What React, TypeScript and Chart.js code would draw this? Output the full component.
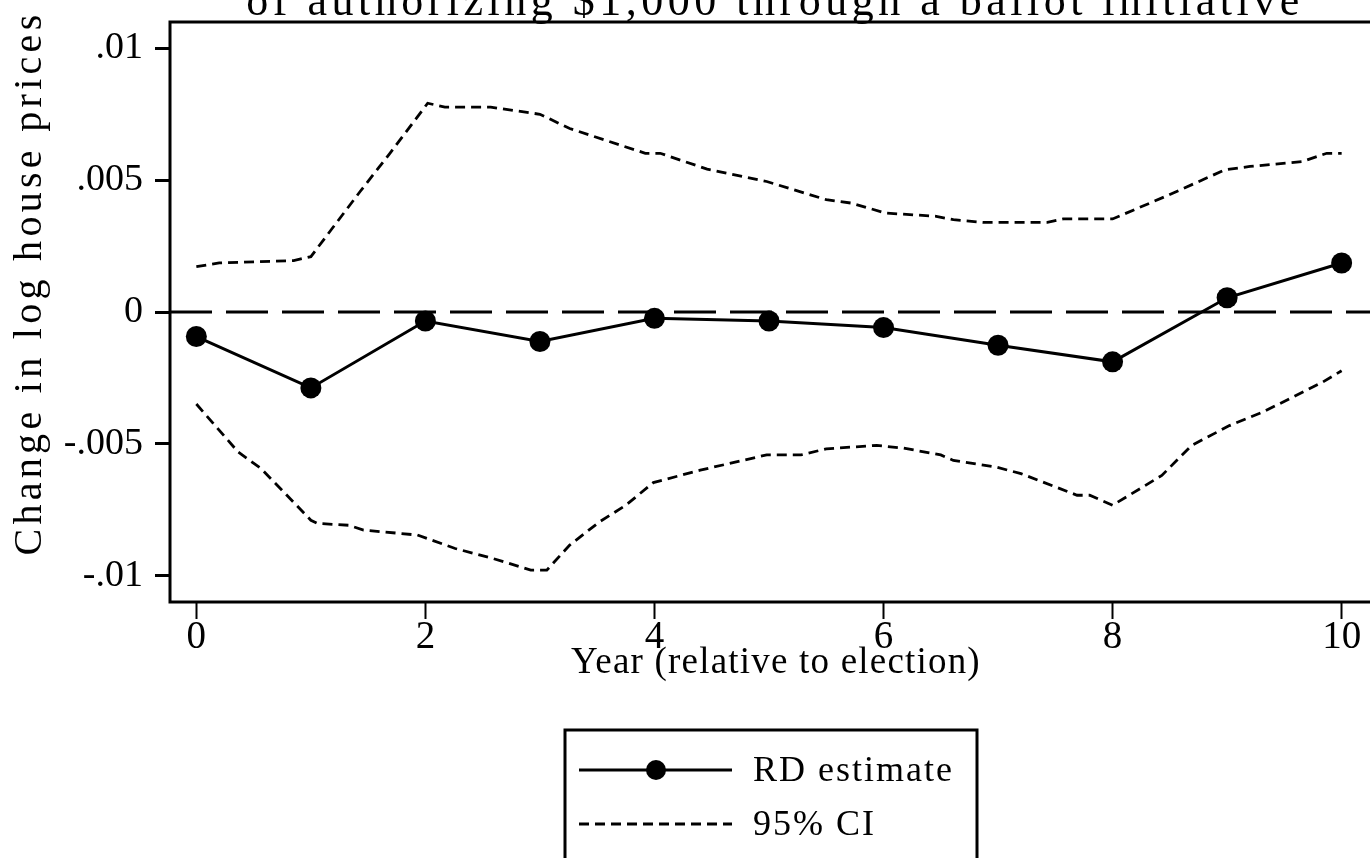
import React, { useEffect, useRef } from 'react';
import { Chart, registerables } from 'chart.js';

Chart.register(...registerables);

// ---- data ----
const years = [0, 1, 2, 3, 4, 5, 6, 7, 8, 9, 10];
const rdEstimate = [-0.00093, -0.00288, -0.00034, -0.00112, -0.00024, -0.00034, -0.00059, -0.00126, -0.00189, 0.00054, 0.00186];

const upperX = [0, 0.2, 0.85, 1.0, 1.43, 1.69, 2.02, 2.17, 2.57, 3.0, 3.26, 3.92, 4.05, 4.46, 4.98, 5.5, 5.72, 6.02, 6.46, 6.61, 6.87, 7.43, 7.57, 8.0, 8.46, 8.98, 9.2, 9.65, 9.87, 10.0];
const upperY = [0.00172, 0.00186, 0.00195, 0.0021, 0.00457, 0.00602, 0.00792, 0.00777, 0.00777, 0.0075, 0.00696, 0.00602, 0.00602, 0.00542, 0.00495, 0.00426, 0.00413, 0.00375, 0.00363, 0.0035, 0.0034, 0.0034, 0.00353, 0.00353, 0.00438, 0.00539, 0.00552, 0.0057, 0.00602, 0.00602];

const lowerX = [0, 0.365, 0.565, 0.764, 1.0, 1.06, 1.33, 1.46, 1.93, 2.26, 2.59, 2.92, 3.06, 3.26, 3.52, 3.75, 3.99, 4.4, 4.98, 5.28, 5.5, 5.94, 6.17, 6.5, 6.61, 6.98, 7.2, 7.69, 7.8, 8.0, 8.43, 8.69, 9.02, 9.31, 9.83, 10.0];
const lowerY = [-0.00349, -0.00531, -0.00594, -0.00683, -0.0079, -0.00802, -0.00809, -0.00827, -0.00846, -0.00897, -0.00935, -0.00979, -0.00979, -0.00884, -0.00796, -0.00733, -0.00647, -0.006, -0.00542, -0.00542, -0.00519, -0.00506, -0.00516, -0.00542, -0.00563, -0.00588, -0.00613, -0.00695, -0.00695, -0.00733, -0.0062, -0.00506, -0.00431, -0.0038, -0.00267, -0.00223];

const referenceLine = [0, 0];
const xTicks = [0, 2, 4, 6, 8, 10];
const yTicks = [-0.01, -0.005, 0, 0.005, 0.01];
const yTickLabels = ['-.01', '-.005', '0', '.005', '.01'];

const titleText = 'of authorizing $1,000 through a ballot initiative';
const yTitle = 'Change in log house prices';
const xTitle = 'Year (relative to election)';
const legendLabels = ['RD estimate', '95% CI'];

const X_MIN = -0.23;
const X_MAX = 10.3;
const FONT = '"Liberation Serif", "Times New Roman", serif';

export default function App() {
  const ref = useRef<HTMLCanvasElement | null>(null);

  useEffect(() => {
    const canvas = ref.current;
    if (!canvas) return;

    const decorPlugin = {
      id: 'decor',
      afterDatasetsDraw(chart: any) {
        const { ctx, chartArea } = chart;
        ctx.save();
        ctx.strokeStyle = '#000';
        ctx.lineWidth = 3;
        ctx.setLineDash([]);
        ctx.strokeRect(chartArea.left, chartArea.top, chartArea.right - chartArea.left, chartArea.bottom - chartArea.top);
        ctx.restore();
      },
      afterDraw(chart: any) {
        const { ctx, chartArea } = chart;
        ctx.save();
        ctx.fillStyle = '#000';
        ctx.strokeStyle = '#000';

        // title (cropped at the top in the reference)
        ctx.font = `44px ${FONT}`;
        (ctx as any).letterSpacing = '4.5px';
        ctx.textAlign = 'center';
        ctx.textBaseline = 'alphabetic';
        ctx.fillText(titleText, (chartArea.left + chartArea.right) / 2 + 2, 15);

        // y axis title
        ctx.save();
        ctx.translate(41, 283);
        ctx.rotate(-Math.PI / 2);
        ctx.font = `40px ${FONT}`;
        (ctx as any).letterSpacing = '4.3px';
        ctx.textAlign = 'center';
        ctx.textBaseline = 'alphabetic';
        ctx.fillText(yTitle, 0, 0);
        ctx.restore();

        // x axis title
        ctx.font = `37px ${FONT}`;
        (ctx as any).letterSpacing = '1.2px';
        ctx.textAlign = 'center';
        ctx.textBaseline = 'alphabetic';
        ctx.fillText(xTitle, 776, 673);

        // legend
        ctx.lineWidth = 3;
        ctx.setLineDash([]);
        ctx.strokeRect(565, 730, 412, 200);

        ctx.beginPath();
        ctx.moveTo(579, 770);
        ctx.lineTo(732, 770);
        ctx.lineWidth = 3;
        ctx.stroke();
        ctx.beginPath();
        ctx.arc(656, 770, 10, 0, Math.PI * 2);
        ctx.fill();

        ctx.beginPath();
        ctx.setLineDash([10, 6]);
        ctx.lineWidth = 2.8;
        ctx.moveTo(579, 824);
        ctx.lineTo(732, 824);
        ctx.stroke();
        ctx.setLineDash([]);

        ctx.font = `36px ${FONT}`;
        (ctx as any).letterSpacing = '2px';
        ctx.textAlign = 'left';
        ctx.textBaseline = 'middle';
        ctx.fillText(legendLabels[0], 753, 772);
        ctx.fillText(legendLabels[1], 753, 826);
        ctx.restore();
      },
    };

    const chart = new Chart(canvas, {
      type: 'line',
      data: {
        datasets: [
          {
            label: 'zero',
            data: [{ x: X_MIN, y: referenceLine[0] }, { x: X_MAX, y: referenceLine[1] }],
            borderColor: '#000',
            borderWidth: 3,
            borderDash: [42, 14],
            pointRadius: 0,
          },
          {
            label: '95% CI upper',
            data: upperX.map((x, i) => ({ x, y: upperY[i] })),
            borderColor: '#000',
            borderWidth: 2.8,
            borderDash: [10, 6],
            pointRadius: 0,
          },
          {
            label: '95% CI lower',
            data: lowerX.map((x, i) => ({ x, y: lowerY[i] })),
            borderColor: '#000',
            borderWidth: 2.8,
            borderDash: [10, 6],
            pointRadius: 0,
          },
          {
            label: legendLabels[0],
            data: years.map((x, i) => ({ x, y: rdEstimate[i] })),
            borderColor: '#000',
            borderWidth: 3,
            pointRadius: 10.5,
            pointBackgroundColor: '#000',
            pointBorderWidth: 0,
          },
        ],
      },
      options: {
        animation: false,
        responsive: false,
        devicePixelRatio: 1,
        layout: { padding: { top: 22, right: 24, left: 0, bottom: 0 } },
        plugins: {
          legend: { display: false },
          tooltip: { enabled: false },
          title: { display: false },
        },
        scales: {
          x: {
            type: 'linear',
            min: X_MIN,
            max: X_MAX,
            afterBuildTicks: (axis: any) => {
              axis.ticks = xTicks.map((v) => ({ value: v }));
            },
            afterFit: (axis: any) => {
              axis.height = 256;
              axis.paddingLeft = 0;
              axis.paddingRight = 0;
            },
            border: { display: false },
            grid: {
              drawOnChartArea: false,
              drawTicks: true,
              tickLength: 17,
              tickWidth: 2,
              tickColor: '#000',
            },
            ticks: {
              color: '#000',
              font: { family: FONT, size: 39, lineHeight: 1 },
              padding: -1,
              maxRotation: 0,
              autoSkip: false,
              callback: (v: any) => String(v),
            },
          },
          y: {
            type: 'linear',
            min: -0.011,
            max: 0.011,
            afterBuildTicks: (axis: any) => {
              axis.ticks = yTicks.map((v) => ({ value: v }));
            },
            afterFit: (axis: any) => {
              axis.width = 170;
              axis.paddingTop = 0;
              axis.paddingBottom = 0;
            },
            border: { display: false },
            grid: {
              drawOnChartArea: false,
              drawTicks: true,
              tickLength: 15,
              tickWidth: 3,
              tickColor: '#000',
            },
            ticks: {
              color: '#000',
              font: { family: FONT, size: 38, lineHeight: 1 },
              padding: 12,
              autoSkip: false,
              callback: (v: any) => {
                const i = yTicks.findIndex((t) => Math.abs(t - Number(v)) < 1e-9);
                return i >= 0 ? yTickLabels[i] : '';
              },
            },
          },
        },
      },
      plugins: [decorPlugin],
    } as any);

    return () => chart.destroy();
  }, []);

  return (
    <div style={{ position: 'fixed', left: 0, top: 0, width: 1370, height: 858, overflow: 'hidden', background: '#fff' }}>
      <canvas ref={ref} width={1400} height={858} style={{ display: 'block', width: 1400, height: 858 }} />
    </div>
  );
}
